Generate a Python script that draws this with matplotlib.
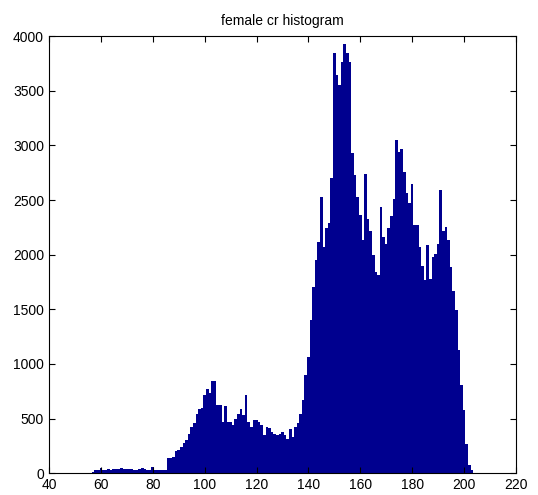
import numpy as np
import matplotlib
matplotlib.use('Agg')
import matplotlib.pyplot as plt

# cr value bins (integer centres) and counts
cr_bins = list(range(57, 204))
counts = [
    15, 25, 28, 50, 30, 33, 35, 32, 38, 36,          # 57-66
    40, 52, 38, 42, 36, 40, 34, 32, 38, 48,          # 67-76
    36, 30, 32, 58, 28, 27, 28, 27, 30, 135,         # 77-86
    140, 150, 200, 215, 240, 280, 300, 360, 420, 460,  # 87-96
    540, 590, 600, 715, 770, 730, 840, 845, 620, 625,  # 97-106
    470, 615, 470, 465, 440, 500, 545, 590, 530, 715,  # 107-116
    470, 425, 485, 485, 470, 440, 348, 424, 410, 378,  # 117-126
    363, 348, 363, 378, 350, 317, 409, 332, 424, 460,  # 127-136
    540, 670, 900, 1060, 1400, 1705, 1950, 2117, 2530, 2070,  # 137-146
    2240, 2290, 2700, 3850, 3640, 3550, 3760, 3930, 3850, 3760,  # 147-156
    2930, 2730, 2530, 2360, 2130, 2740, 2330, 2220, 2000, 1840,  # 157-166
    1810, 2440, 2160, 2100, 2240, 2350, 2510, 3050, 2940, 2970,  # 167-176
    2760, 2560, 2470, 2650, 2270, 2270, 2070, 1900, 1770, 2090,  # 177-186
    1780, 1980, 2010, 2100, 2590, 2220, 2250, 2130, 1890, 1670,  # 187-196
    1490, 1125, 805, 575, 270, 75, 25,                # 197-203
]
x_ticks = list(range(40, 221, 20))
y_ticks = list(range(0, 4001, 500))

plt.rcParams['font.family'] = ['Liberation Sans', 'DejaVu Sans']

fig = plt.figure(figsize=(5.38, 4.95), dpi=100)
ax = fig.add_axes([0.091, 0.044, 0.868, 0.883])
ax.bar(cr_bins, counts, width=1.02, color='#00008F', edgecolor='none',
       antialiased=False)
ax.set_xlim(40, 220)
ax.set_ylim(0, 4000)
ax.set_xticks(x_ticks)
ax.set_yticks(y_ticks)
ax.tick_params(direction='in', top=True, right=True, labelsize=10, length=4)
ax.set_title('female cr histogram', fontsize=10, pad=8)

fig.savefig('out.png', dpi=100)
